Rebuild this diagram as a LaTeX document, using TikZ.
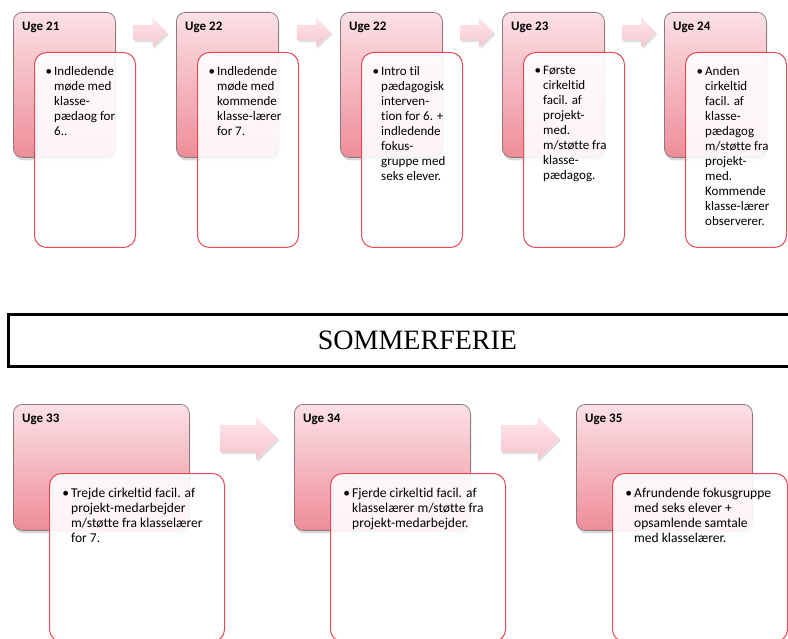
\documentclass[tikz,border=0pt]{standalone}
\usepackage{fontspec}
\setmainfont{Carlito}[Ligatures=NoCommon]
\newfontfamily\bannerfont{Liberation Serif}
\usetikzlibrary{positioning,calc,shadows,shapes.arrows}

\definecolor{lyserod}{HTML}{FBE1E6}
\definecolor{rosa}{HTML}{EE8D99}
\definecolor{kant}{HTML}{8E7A7C}
\definecolor{roedkant}{HTML}{E44B55}
\definecolor{pillys}{HTML}{FDE7EC}
\definecolor{pilmoerk}{HTML}{F6C4CD}

\tikzset{
  ugeboks/.style={draw=kant, line width=0.8pt, rounded corners=9pt, top color=lyserod, bottom color=rosa, anchor=north west,
    drop shadow={shadow xshift=1pt, shadow yshift=-3pt, opacity=0.3}},
  tekstboks/.style={draw=roedkant, line width=1pt, rounded corners=12pt, fill=white, fill opacity=0.9, anchor=north west},
  ugelabel/.style={font=\bfseries\fontsize{13}{15}\selectfont, inner sep=0pt},
  punkt/.style={font=\fontsize{13}{15}\selectfont, inner sep=0pt, align=left},
  pil/.style={single arrow, single arrow head indent=0pt, draw=none, top color=pillys, bottom color=pilmoerk,
    drop shadow={shadow xshift=1.5pt, shadow yshift=-2pt, opacity=0.25}},
  banner/.style={draw, line width=2.2pt, inner sep=0pt, font=\bannerfont\fontsize{28}{30}\selectfont}
}

\begin{document}
\begin{tikzpicture}[x=1pt, y=-1pt]
  \useasboundingbox (0,0) rectangle (788,639);
  \clip (0,0) rectangle (788,639);

  % foraar
  \foreach \n/\x/\uge/\tekst in {
    1/13/21/{Indledende\\møde med\\klasse-\\pædaog for\\6..},
    2/176/22/{Indledende\\møde med\\kommende\\klasse-lærer\\for 7.},
    3/340/22/{Intro til\\pædagogisk\\interven-\\tion for 6. +\\indledende\\fokus-\\gruppe med\\seks elever.},
    4/502/23/{Første\\cirkeltid\\facil. af\\projekt-\\med.\\m/støtte fra\\klasse-\\pædagog.},
    5/664/24/{Anden\\cirkeltid\\facil. af\\klasse-\\pædagog\\m/støtte fra\\projekt-\\med.\\Kommende\\klasse-lærer\\observerer.}}{
    \node[ugeboks, minimum width=102pt, minimum height=145pt] (u\n) at (\x,12) {};
    \node[ugelabel, below right=10pt and 9pt of u\n.north west] (l\n) {Uge \uge};
    \node[tekstboks, minimum width=101pt, minimum height=195pt] (t\n) at ($(u\n.north west)+(21,40)$) {};
    \node[punkt, below right=14pt and 20pt of t\n.north west] (x\n) {\llap{\textbullet\hspace{2pt}}\tekst};
  }
  \foreach \a/\b in {1/2,2/3,3/4,4/5}
    \node[pil, minimum height=34pt, minimum width=29pt, inner sep=7.5pt, single arrow head extend=7pt]
      (p\a) at ($(u\a.north east)!0.5!(u\b.north west)+(0.5,20.5)$) {};

  \node[banner, minimum width=818pt, minimum height=52pt] (sommer) at (417.5,340.5) {SOMMERFERIE};

  % efteraar
  \foreach \n/\x/\tekst in {
    33/13/{Trejde cirkeltid facil. af\\projekt-medarbejder\\m/støtte fra klasselærer\\for 7.},
    34/294/{Fjerde cirkeltid facil. af\\klasselærer m/støtte fra\\projekt-medarbejder.},
    35/576/{Afrundende fokusgruppe\\med seks elever +\\opsamlende samtale\\med klasselærer.}}{
    \node[ugeboks, minimum width=176pt, minimum height=126pt] (u\n) at (\x,404) {};
    \node[ugelabel, below right=10pt and 9pt of u\n.north west] (l\n) {Uge \n};
    \node[tekstboks, minimum width=175pt, minimum height=168pt] (t\n) at ($(u\n.north west)+(36,69)$) {};
    \node[punkt, font=\fontsize{13.5}{15}\selectfont, below right=15pt and 22pt of t\n.north west] (x\n)
      {\llap{\textbullet\hspace{2pt}}\tekst};
  }
  \foreach \a/\b in {33/34,34/35}
    \node[pil, minimum height=58pt, minimum width=43pt, inner sep=13.5pt, single arrow head extend=8pt]
      (p\a) at ($(u\a.north east)!0.5!(u\b.north west)+(0,34.5)$) {};
\end{tikzpicture}
\end{document}
